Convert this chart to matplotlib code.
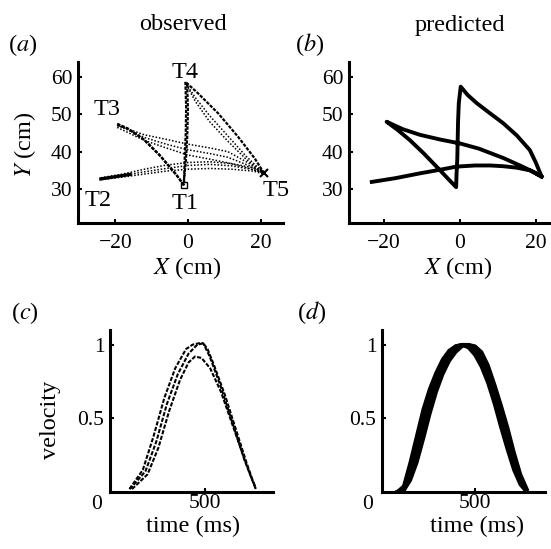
import numpy as np
import matplotlib
matplotlib.use("Agg")
import matplotlib.pyplot as plt

plt.rcParams['font.family'] = ['Liberation Serif', 'DejaVu Serif']
plt.rcParams['mathtext.fontset'] = 'stix'

# ---- (a) observed hand paths, one list of trials per segment ----
obs_T2_T5 = [
    ([-24, -18, -12, -6, 0, 6, 12, 18, 21], [32.8, 33.6, 34.6, 35.5, 36.3, 36.6, 36.2, 35.2, 34.2]),
    ([-24, -18, -12, -6, 0, 6, 12, 18, 21], [32.5, 33.2, 34.0, 34.8, 35.3, 35.5, 35.3, 34.8, 34.0]),
    ([-24, -18, -12, -6, 0, 6, 12, 18, 21], [33.0, 34.0, 35.3, 36.4, 37.1, 37.3, 36.8, 35.7, 34.4]),
]
obs_T2_start = ([-24, -20, -16], [32.7, 33.3, 33.9])
obs_T5_T4 = [
    ([21, 16, 11, 6, 2, -0.7], [34.2, 38.0, 42.8, 48.0, 53.5, 58.5]),
    ([21, 16, 11, 6, 2, -0.7], [34.2, 38.8, 44.2, 49.6, 54.5, 58.5]),
]
obs_T5_T4_main = ([21, 18.4, 13.8, 8.3, 2.8, -0.7], [34.2, 38.2, 44.0, 50.3, 55.6, 58.7])
obs_T4_T1 = [
    ([-0.7, -0.5, -0.6, -0.9, -1.1], [58.7, 52, 45, 38, 31]),
    ([-0.2, 0.0, -0.2, -0.6, -1.2], [58.0, 51, 44, 37, 31.5]),
]
obs_T1_T3 = [
    ([-1.1, -2.8, -7.4, -11.9, -16.6, -19.5], [31.0, 33.3, 38.6, 43.1, 46.2, 47.1]),
    ([-1.1, -3.5, -8.0, -12.5, -17.0, -19.8], [31.0, 34.2, 39.3, 43.5, 46.4, 47.6]),
]
obs_T3_T5 = [
    ([-19.5, -12, -6, 0, 6, 11, 17, 21], [47.1, 44.5, 43.3, 42.0, 41.0, 40.0, 36.8, 34.2]),
    ([-19.5, -12, -6, 0, 6, 11, 17, 21], [47.1, 43.8, 42.0, 40.5, 39.5, 38.5, 36.2, 34.2]),
    ([-19.5, -12, -6, 0, 6, 11, 17, 21], [46.5, 43.0, 41.0, 39.1, 38.0, 37.0, 35.5, 34.2]),
]
target_names = ['T1', 'T2', 'T3', 'T4', 'T5']
target_label_x = [-0.8, -24.8, -22.3, -0.8, 24.3]
target_label_y = [26.2, 27.0, 51.2, 61.3, 29.7]

# ---- (b) predicted path ----
pred_x = [-23.2, -17, -10.5, -5, -0.9, 4, 8, 11.4, 15, 18.4, 21.5,
          20, 18.4, 15, 11.4, 8, 4.4, 2, 0.2,
          -0.3, -0.5, -0.6, -0.7, -0.9, -1.0,
          -3.0, -5.7, -9.5, -13.2, -16.5, -19.3,
          -15, -10.5, -5, 0, 5, 11.4, 16, 19.5, 21.5]
pred_y = [31.9, 32.9, 34.2, 35.2, 36.0, 36.3, 36.3, 36.1, 35.7, 35.0, 33.3,
          37, 40.4, 44.3, 47.6, 50.2, 53, 55.2, 57.4,
          53, 48, 43, 38, 34, 30.5,
          32.6, 35.5, 39.5, 43.1, 45.9, 48.0,
          46.0, 44.5, 43.2, 42.2, 40.8, 38.3, 36.2, 34.5, 33.3]

# ---- (c) observed velocity profiles ----
vel_obs = [
    ([150, 212, 262, 312, 362, 412, 442, 472, 492, 522, 572, 632, 682, 735],
     [0.02, 0.15, 0.38, 0.64, 0.84, 0.97, 1.0, 1.01, 1.01, 0.92, 0.72, 0.45, 0.22, 0.02]),
    ([152, 224, 274, 324, 374, 424, 464, 492, 512, 542, 592, 642, 692, 735],
     [0.02, 0.14, 0.34, 0.60, 0.80, 0.94, 1.0, 1.01, 0.97, 0.86, 0.66, 0.43, 0.20, 0.02]),
    ([162, 234, 284, 334, 384, 424, 454, 484, 524, 574, 624, 674, 714, 735],
     [0.02, 0.12, 0.30, 0.55, 0.76, 0.88, 0.92, 0.91, 0.84, 0.68, 0.47, 0.26, 0.10, 0.03]),
]

# ---- (d) predicted velocity profiles ----
t_pred = [140, 170, 200, 230, 260, 290, 320, 350, 380, 410, 440,
          470, 500, 530, 560, 590, 620, 650, 680, 710, 740]
vel_pred = [
    [0, 0.04, 0.20, 0.38, 0.56, 0.70, 0.81, 0.90, 0.96, 0.99, 1.0, 0.98, 0.93, 0.85, 0.74, 0.60, 0.44, 0.29, 0.15, 0.05, 0.0],
    [0, 0.03, 0.17, 0.34, 0.52, 0.67, 0.79, 0.88, 0.95, 0.99, 1.0, 0.99, 0.95, 0.88, 0.77, 0.63, 0.48, 0.32, 0.18, 0.06, 0.0],
    [0, 0.02, 0.13, 0.29, 0.46, 0.62, 0.75, 0.85, 0.93, 0.98, 1.0, 0.99, 0.96, 0.90, 0.80, 0.67, 0.52, 0.36, 0.21, 0.08, 0.0],
    [0, 0.01, 0.10, 0.24, 0.41, 0.58, 0.72, 0.83, 0.91, 0.97, 1.0, 1.0, 0.98, 0.93, 0.84, 0.71, 0.56, 0.40, 0.24, 0.10, 0.01],
    [0, 0.01, 0.08, 0.20, 0.36, 0.53, 0.68, 0.80, 0.89, 0.95, 0.99, 1.0, 0.99, 0.95, 0.86, 0.73, 0.59, 0.44, 0.27, 0.12, 0.02],
]

W, H = 551, 549
TICK_FS = 15.5
LAB_FS = 17.5
fig = plt.figure(figsize=(W / 100, H / 100), dpi=100)


def box(l, t, r, b):
    return [l / W, 1 - b / H, (r - l) / W, (b - t) / H]


def style(ax, xpad, ypad):
    for s in ['top', 'right']:
        ax.spines[s].set_visible(False)
    for s in ['left', 'bottom']:
        ax.spines[s].set_linewidth(2.2)
    ax.tick_params(direction='in', length=3, width=1.5, labelsize=TICK_FS)
    ax.tick_params(axis='x', pad=xpad)
    ax.tick_params(axis='y', pad=ypad)


ax_a = fig.add_axes(box(78, 62, 283, 223))
ax_b = fig.add_axes(box(349, 62, 550, 223))
ax_c = fig.add_axes(box(110, 330, 273, 492))
ax_d = fig.add_axes(box(382, 330, 545, 492))

# (a)
for x, y in obs_T2_T5 + obs_T5_T4 + obs_T3_T5:
    ax_a.plot(x, y, color='black', ls=(0, (1, 1.2)), lw=1.1)
for x, y in obs_T4_T1 + obs_T1_T3 + [obs_T5_T4_main]:
    ax_a.plot(x, y, color='black', ls=(0, (1.5, 0.6)), lw=1.6)
ax_a.plot(*obs_T2_start, color='black', lw=2.4)
ax_a.plot([-1.1], [31.0], marker='s', ms=5, mfc='none', mec='black')
ax_a.plot([21], [34.2], marker='x', ms=6, color='black', mew=1.5)
for name, tx, ty in zip(target_names, target_label_x, target_label_y):
    ax_a.text(tx, ty, name, fontsize=LAB_FS, ha='center', va='center')
ax_a.set_xlim(-30.3, 26.2)
ax_a.set_ylim(20.9, 64.0)

# (b)
ax_b.plot(pred_x, pred_y, color='black', lw=2.8, solid_joinstyle='round')
ax_b.set_xlim(-29.2, 23.7)
ax_b.set_ylim(20.9, 64.0)

for ax in (ax_a, ax_b):
    style(ax, 8, 4)
    ax.set_xticks([-20, 0, 20])
    ax.set_xticklabels(['\u221220', '0', '20'])
    ax.set_yticks([30, 40, 50, 60])
ax_a.set_xlabel(r'$X$ (cm)', fontsize=LAB_FS, va='center')
ax_a.xaxis.set_label_coords(0.532, -0.278)
ax_b.set_xlabel(r'$X$ (cm)', fontsize=LAB_FS, va='center')
ax_b.xaxis.set_label_coords(0.542, -0.278)
ax_a.set_ylabel(r'$Y$ (cm)', fontsize=LAB_FS, va='center')
ax_a.yaxis.set_label_coords(-0.259, 0.484)

# (c)
for t, v in vel_obs:
    ax_c.plot(t, v, color='black', ls=(0, (2, 0.8)), lw=1.5)
ax_c.set_xlim(60, 815)

# (d)
for v in vel_pred:
    ax_d.plot(t_pred, v, color='black', lw=2.6)
ax_d.set_xlim(69, 824)

for ax, lx in ((ax_c, 0.509), (ax_d, 0.583)):
    style(ax, 1.5, 4)
    ax.set_ylim(0, 1.1)
    ax.set_xticks([500])
    ax.set_yticks([0.5, 1])
    ax.set_yticklabels(['0.5', '1'])
    ax.text(0, -0.017, '0', transform=ax.get_xaxis_transform(), fontsize=TICK_FS,
            ha='center', va='top', clip_on=False)
    ax.set_xlabel('time (ms)', fontsize=LAB_FS, va='center')
    ax.xaxis.set_label_coords(lx, -0.215)
ax_c.set_ylabel('velocity', fontsize=LAB_FS, va='center')
ax_c.yaxis.set_label_coords(-0.368, 0.444)

fig.text(183 / W, 1 - 25 / H, 'observed', fontsize=LAB_FS, ha='center', va='center')
fig.text(460 / W, 1 - 25 / H, 'predicted', fontsize=LAB_FS, ha='center', va='center')
for lab, px, py in (('a', 23, 45), ('b', 310, 45), ('c', 25, 313), ('d', 312, 313)):
    fig.text(px / W, 1 - py / H, r'($\mathit{%s}$)' % lab, fontsize=LAB_FS,
             ha='center', va='center')

fig.savefig('out.png', dpi=100)
